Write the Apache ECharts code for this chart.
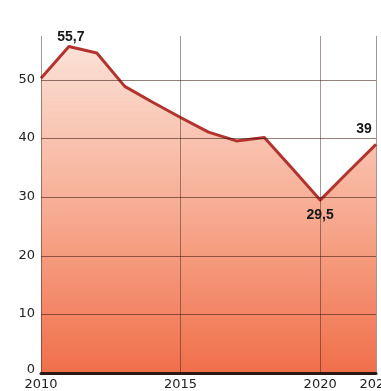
<!DOCTYPE html>
<html>
<head>
<meta charset="utf-8">
<style>
  html, body { margin: 0; padding: 0; background: #ffffff; }
  #chart { width: 381px; height: 391px; }
</style>
<script src="https://cdn.jsdelivr.net/npm/echarts@6/dist/echarts.min.js"></script>
</head>
<body>
<div id="chart"></div>
<script>
// Yearly values, 2010–2022
const years = [2010, 2011, 2012, 2013, 2014, 2015, 2016, 2017, 2018, 2019, 2020, 2021, 2022];
const values = [50.3, 55.7, 54.6, 48.9, 46.2, 43.6, 41.1, 39.6, 40.2, 34.9, 29.5, 34.3, 39];
// Points that carry a value label
const labelled = { 2011: 'top', 2020: 'bottom', 2022: 'top' };
const yTicks = [0, 10, 20, 30, 40, 50];
const xTickYears = [2010, 2015, 2020, 2022];

const fmt = v => String(v).replace('.', ',');

const labelOffsets = { 2011: [2, 3], 2020: [0, 0], 2022: [-12, -3] };

const points = years.map((y, i) => {
  const p = { value: [y, values[i]] };
  if (labelled[y]) {
    p.label = {
      show: true,
      position: labelled[y],
      formatter: () => fmt(values[i]),
      fontFamily: 'Liberation Sans, Arial, sans-serif',
      fontWeight: 'bold',
      fontSize: 14,
      color: '#161616',
      distance: labelled[y] === 'bottom' ? 8 : 5,
      offset: labelOffsets[y]
    };
  }
  return p;
});

const chart = echarts.init(document.getElementById('chart'), null, { renderer: 'canvas' });
chart.setOption({
  animation: false,
  grid: { left: 41, right: 5, top: 36, bottom: 18, containLabel: false, outerBoundsMode: 'none' },
  xAxis: {
    type: 'value',
    min: years[0],
    max: years[years.length - 1],
    interval: 5,
    z: 3,
    axisLine: { show: true, onZero: false, lineStyle: { color: '#2b1812', width: 3 } },
    axisTick: { show: false },
    axisLabel: {
      margin: 5,
      fontFamily: 'DejaVu Sans, sans-serif',
      fontSize: 13,
      color: '#222',
      formatter: v => (xTickYears.indexOf(v) >= 0 ? String(v) : '')
    },
    splitLine: { show: true, lineStyle: { color: 'rgba(50,25,15,0.45)', width: 1 } }
  },
  yAxis: {
    type: 'value',
    min: 0,
    max: 57.5,
    interval: 10,
    z: 3,
    axisLine: { show: false },
    axisTick: { show: false },
    axisLabel: {
      margin: 6,
      showMaxLabel: false,
      fontFamily: 'DejaVu Sans, sans-serif',
      fontSize: 13,
      color: '#222',
      formatter: v => (yTicks.indexOf(v) < 0 ? '' : (v === 0 ? '{zero|0}' : '{n|' + v + '}')),
      rich: {
        n: { fontFamily: 'DejaVu Sans, sans-serif', fontSize: 13, color: '#222', padding: [0, 0, 1, 0] },
        zero: { fontFamily: 'DejaVu Sans, sans-serif', fontSize: 13, color: '#222', padding: [0, 0, 7, 0] }
      }
    },
    splitLine: {
      show: true,
      showMinLine: false,
      showMaxLine: false,
      lineStyle: { color: 'rgba(55,22,12,0.55)', width: 1 }
    }
  },
  series: [{
    type: 'line',
    data: points,
    symbol: 'circle',
    symbolSize: 0.01,
    showSymbol: true,
    z: 2,
    itemStyle: { color: '#b3342e' },
    lineStyle: { color: '#b3342e', width: 3, join: 'round' },
    areaStyle: {
      origin: 'start',
      opacity: 1,
      color: new echarts.graphic.LinearGradient(0, 0, 0, 1, [
        { offset: 0, color: '#fbe1d6' },
        { offset: 0.5, color: '#f7ac93' },
        { offset: 1, color: '#f06f4a' }
      ])
    }
  }]
});
</script>
</body>
</html>
